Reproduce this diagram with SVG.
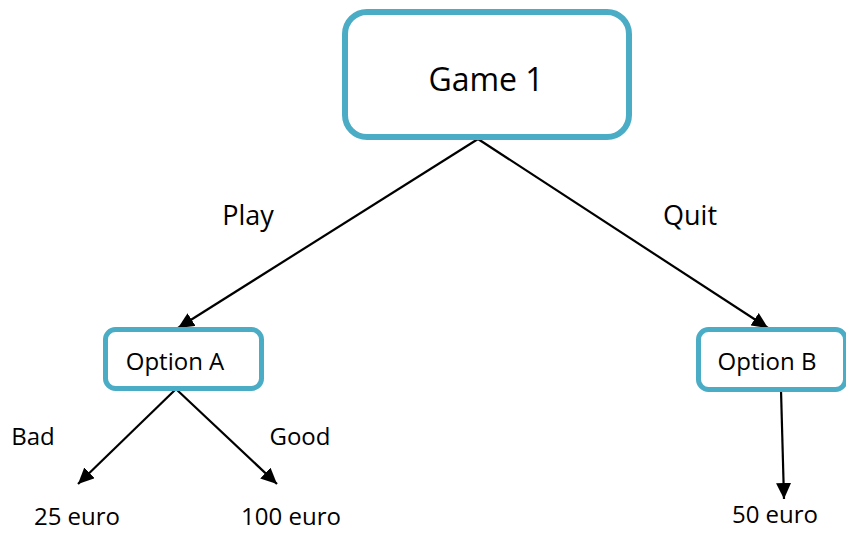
<svg xmlns="http://www.w3.org/2000/svg" width="846" height="534" viewBox="0 0 846 534">
  <style>
    .box { fill: #ffffff; stroke: #4bacc6; }
    .lbl { font-family: "Open Sans", "Liberation Sans", sans-serif; fill: #000000; }
    .edge { stroke: #000000; stroke-width: 2.2; fill: none; marker-end: url(#arrow); }
  </style>
  <defs>
    <marker id="arrow" markerUnits="userSpaceOnUse" markerWidth="17" markerHeight="15" refX="16" refY="7.5" orient="auto">
      <path d="M0,0 L16,7.5 L0,15 Z" fill="#000000"/>
    </marker>
  </defs>
  <rect width="846" height="534" fill="#ffffff"/>

  <g id="connectors">
    <line class="edge" x1="478" y1="139" x2="178" y2="328"/>
    <line class="edge" x1="478" y1="139" x2="768" y2="328"/>
    <line class="edge" x1="176" y1="389" x2="78" y2="484"/>
    <line class="edge" x1="176" y1="389" x2="277" y2="484"/>
    <line class="edge" x1="781" y1="390" x2="784" y2="499"/>
  </g>

  <g id="game1">
    <rect class="box" x="345" y="12" width="284" height="125" rx="22" stroke-width="6"/>
    <text class="lbl" x="486" y="91" font-size="32" text-anchor="middle">Game 1</text>
  </g>

  <g id="optionA">
    <rect class="box" x="105.5" y="329.5" width="156" height="59" rx="10" stroke-width="5"/>
    <text class="lbl" x="175" y="370" font-size="24" text-anchor="middle">Option A</text>
  </g>

  <g id="optionB">
    <rect class="box" x="698.5" y="329.5" width="147" height="60" rx="10" stroke-width="5"/>
    <text class="lbl" x="767" y="370" font-size="24" text-anchor="middle">Option B</text>
  </g>

  <g id="edge-labels">
    <text class="lbl" x="248" y="225" font-size="27" text-anchor="middle">Play</text>
    <text class="lbl" x="690" y="225" font-size="27" text-anchor="middle">Quit</text>
    <text class="lbl" x="33" y="445" font-size="24" text-anchor="middle">Bad</text>
    <text class="lbl" x="300" y="445" font-size="24" text-anchor="middle">Good</text>
  </g>

  <g id="outcomes">
    <text class="lbl" x="77" y="525" font-size="24" text-anchor="middle">25 euro</text>
    <text class="lbl" x="291" y="525" font-size="24" text-anchor="middle">100 euro</text>
    <text class="lbl" x="775" y="523" font-size="24" text-anchor="middle">50 euro</text>
  </g>
</svg>
